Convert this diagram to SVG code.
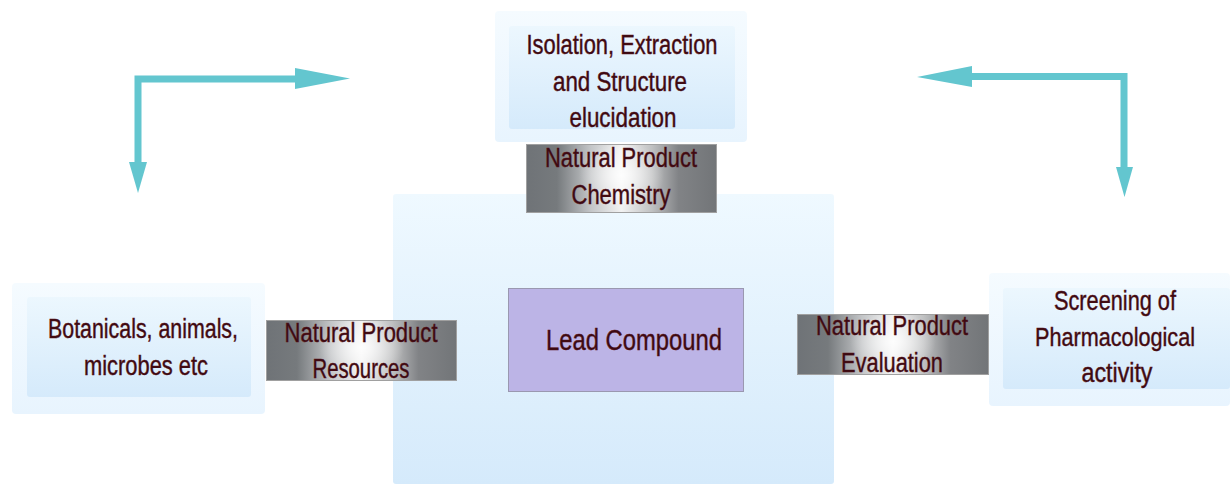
<svg xmlns="http://www.w3.org/2000/svg" width="1230" height="484" viewBox="0 0 1230 484">
  <defs>
    <linearGradient id="paleOuter" x1="0" y1="0" x2="0" y2="1">
      <stop offset="0" stop-color="#f5fbff"/>
      <stop offset="1" stop-color="#e8f4fe"/>
    </linearGradient>
    <linearGradient id="paleInner" x1="0" y1="0" x2="0" y2="1">
      <stop offset="0" stop-color="#ecf7fe"/>
      <stop offset="1" stop-color="#d5eafb"/>
    </linearGradient>
    <linearGradient id="hubFill" x1="0" y1="0" x2="0" y2="1">
      <stop offset="0" stop-color="#eff9ff"/>
      <stop offset="1" stop-color="#d5eafb"/>
    </linearGradient>
    <!-- brushed-metal look for the label bands -->
    <linearGradient id="metal" x1="0" y1="0" x2="1" y2="0">
      <stop offset="0" stop-color="#6f7377"/>
      <stop offset="0.16" stop-color="#767a7d"/>
      <stop offset="0.34" stop-color="#c4c6c8"/>
      <stop offset="0.5" stop-color="#f2f2f2"/>
      <stop offset="0.66" stop-color="#c0c1c2"/>
      <stop offset="0.8" stop-color="#818386"/>
      <stop offset="1" stop-color="#727578"/>
    </linearGradient>
    <radialGradient id="glint" cx="0.5" cy="0.45" r="0.5" gradientTransform="translate(0.5 0.45) scale(0.45 1) translate(-0.5 -0.45)">
      <stop offset="0" stop-color="#ffffff" stop-opacity="0.85"/>
      <stop offset="1" stop-color="#ffffff" stop-opacity="0"/>
    </radialGradient>
    <style>
      .outer { fill: url(#paleOuter); }
      .inner { fill: url(#paleInner); }
      .band { fill: url(#metal); stroke: #a0a0a0; stroke-width: 1; }
      .shine { fill: url(#glint); }
      .txt { font-family: "Liberation Sans Narrow", "Liberation Sans", sans-serif; font-size: 27px; fill: #3a0a12; stroke: #5a1218; stroke-width: 0.45; text-anchor: middle; }
      .big { font-size: 29px; }
      .flow { fill: none; stroke: #63c6cf; stroke-width: 7; }
      .head { fill: #63c6cf; }
    </style>
  </defs>

  <rect width="1230" height="484" fill="#ffffff"/>

  <!-- central hub panel -->
  <g id="hub">
    <rect x="393" y="194" width="441" height="290" rx="3" fill="url(#hubFill)"/>
  </g>

  <!-- connectors: the two cyan elbow arrows -->
  <g id="connectors">
    <polyline class="flow" points="296,79 138,79 138,163"/>
    <polygon class="head" points="295,68 350,78.5 295,89"/>
    <polygon class="head" points="129,162 138,193 147,162"/>
    <polyline class="flow" points="972,76.5 1124,76.5 1124,168"/>
    <polygon class="head" points="972,66 917,77 972,87"/>
    <polygon class="head" points="1116,167 1124.5,197 1133,167"/>
  </g>

  <!-- top: isolation node -->
  <g id="node-isolation">
    <rect class="outer" x="495" y="11" width="252" height="131" rx="4"/>
    <rect class="inner" x="509" y="26" width="226" height="103" rx="3"/>
    <text class="txt" x="622" y="54" textLength="191" lengthAdjust="spacingAndGlyphs">Isolation, Extraction</text>
    <text class="txt" x="620" y="91" textLength="134" lengthAdjust="spacingAndGlyphs">and Structure</text>
    <text class="txt" x="623" y="127" textLength="107" lengthAdjust="spacingAndGlyphs">elucidation</text>
  </g>

  <!-- label band: chemistry -->
  <g id="label-chemistry">
    <rect class="band" x="526.5" y="144.5" width="190" height="68"/>
    <rect class="shine" x="526.5" y="144.5" width="190" height="68"/>
    <text class="txt" x="621" y="167" textLength="152" lengthAdjust="spacingAndGlyphs">Natural Product</text>
    <text class="txt" x="621" y="204" textLength="99" lengthAdjust="spacingAndGlyphs">Chemistry</text>
  </g>

  <!-- left: source organisms node -->
  <g id="node-sources">
    <rect class="outer" x="12" y="283" width="253" height="131" rx="4"/>
    <rect class="inner" x="27" y="297" width="224" height="100" rx="3"/>
    <text class="txt" x="143" y="338" textLength="190" lengthAdjust="spacingAndGlyphs">Botanicals, animals,</text>
    <text class="txt" x="146" y="375" textLength="124" lengthAdjust="spacingAndGlyphs">microbes etc</text>
  </g>

  <!-- label band: resources -->
  <g id="label-resources">
    <rect class="band" x="266.5" y="320.5" width="190" height="60"/>
    <rect class="shine" x="266.5" y="320.5" width="190" height="60"/>
    <text class="txt" x="361" y="342" textLength="153" lengthAdjust="spacingAndGlyphs">Natural Product</text>
    <text class="txt" x="361" y="378" textLength="97" lengthAdjust="spacingAndGlyphs">Resources</text>
  </g>

  <!-- centre: lead compound -->
  <g id="node-lead">
    <rect x="508.5" y="288.5" width="235" height="103" fill="#bcb4e6" stroke="#9a98b0" stroke-width="1"/>
    <text class="txt big" x="634" y="350" textLength="176" lengthAdjust="spacingAndGlyphs">Lead Compound</text>
  </g>

  <!-- label band: evaluation -->
  <g id="label-evaluation">
    <rect class="band" x="797.5" y="314.5" width="191" height="60"/>
    <rect class="shine" x="797.5" y="314.5" width="191" height="60"/>
    <text class="txt" x="892" y="335" textLength="152" lengthAdjust="spacingAndGlyphs">Natural Product</text>
    <text class="txt" x="892" y="372" textLength="102" lengthAdjust="spacingAndGlyphs">Evaluation</text>
  </g>

  <!-- right: screening node (runs to the right edge) -->
  <g id="node-screening">
    <rect class="outer" x="989" y="273" width="241" height="133" rx="4"/>
    <rect class="inner" x="1003" y="288" width="227" height="101" rx="3"/>
    <text class="txt" x="1115" y="310" textLength="122" lengthAdjust="spacingAndGlyphs">Screening of</text>
    <text class="txt" x="1115" y="346" font-size="25" textLength="160" lengthAdjust="spacingAndGlyphs" style="font-size:26px">Pharmacological</text>
    <text class="txt" x="1117" y="382" textLength="71" lengthAdjust="spacingAndGlyphs">activity</text>
  </g>
</svg>
